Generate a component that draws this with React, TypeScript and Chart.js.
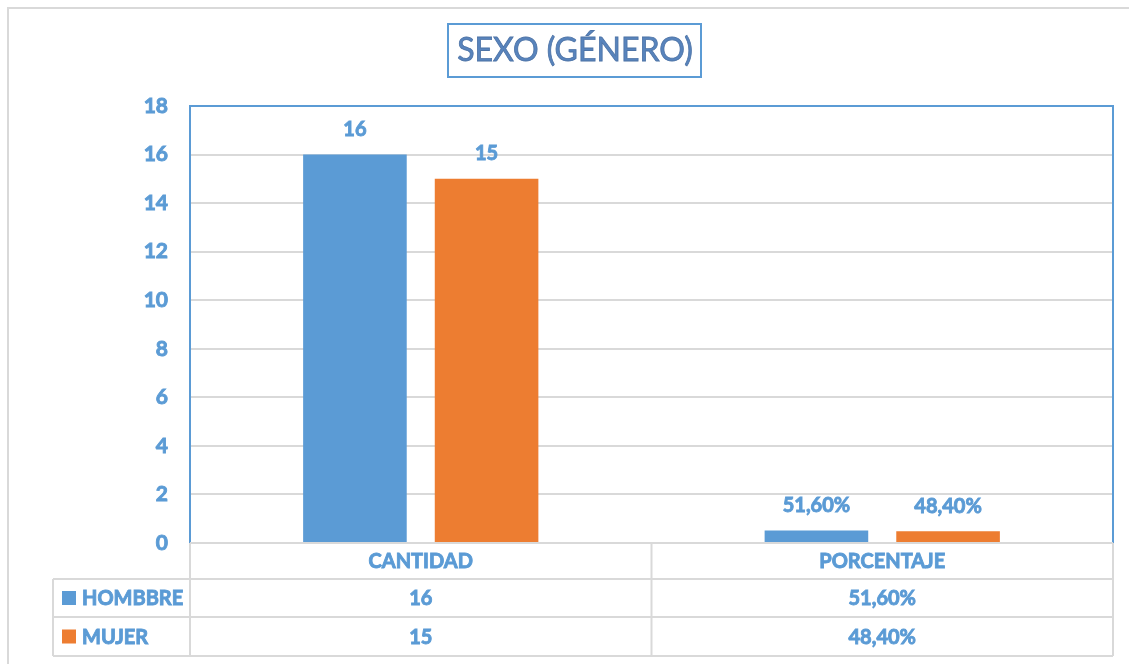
import React, { useEffect, useRef } from 'react';
import { Chart, registerables } from 'chart.js';

Chart.register(...registerables);

// ---- data ----
const TITLE = 'SEXO (GÉNERO)';
const CATEGORIES = ['CANTIDAD', 'PORCENTAJE'];
const SERIES_NAMES = ['HOMBBRE', 'MUJER'];
const HOMBRE = [16, 0.516];
const MUJER = [15, 0.484];
const Y_MIN = 0;
const Y_MAX = 18;
const Y_STEP = 2;

// ---- styles ----
const BLUE = '#5b9bd5';
const ORANGE = '#ed7d31';
const GRID = '#d9d9d9';
const TEXT_BLUE = '#5b9bd5';
const TITLE_COLOR = '#5884bd';
const TITLE_STROKE = '#4d73a6';
const FONT = 'Lato, "Open Sans", "Liberation Sans", sans-serif';
const TXT_W = 700;
const TXT_S = 20;
const STROKE_W = 0.9;

const fmt = (v: number, catIndex: number) =>
  catIndex === 1 ? (v * 100).toFixed(2).replace('.', ',') + '%' : String(v);

function boldText(ctx: CanvasRenderingContext2D, s: string, x: number, y: number) {
  ctx.fillText(s, x, y);
  ctx.strokeText(s, x, y);
}

const decor = {
  id: 'excelDecor',
  beforeDraw(chart: any) {
    const ctx = chart.ctx;
    ctx.save();
    ctx.fillStyle = '#ffffff';
    ctx.fillRect(0, 0, chart.width, chart.height);
    // outer chart border
    ctx.strokeStyle = GRID;
    ctx.lineWidth = 2;
    ctx.beginPath();
    ctx.moveTo(8, chart.height);
    ctx.lineTo(8, 8);
    ctx.lineTo(chart.width, 8);
    ctx.stroke();
    // title box
    ctx.strokeStyle = BLUE;
    ctx.lineWidth = 2;
    ctx.strokeRect(448, 24, 253, 53);
    ctx.fillStyle = TITLE_COLOR;
    ctx.strokeStyle = TITLE_STROKE;
    ctx.lineWidth = 0.8;
    ctx.font = `400 32px ${FONT}`;
    ctx.textAlign = 'center';
    ctx.textBaseline = 'middle';
    boldText(ctx, TITLE, 575, 51);
    ctx.restore();
  },
  afterDatasetsDraw(chart: any) {
    const ctx = chart.ctx;
    ctx.save();
    ctx.fillStyle = TEXT_BLUE;
    ctx.strokeStyle = TEXT_BLUE;
    ctx.lineWidth = STROKE_W;
    ctx.font = `${TXT_W} ${TXT_S}px ${FONT}`;
    ctx.textAlign = 'center';
    ctx.textBaseline = 'middle';
    chart.data.datasets.forEach((ds: any, di: number) => {
      const meta = chart.getDatasetMeta(di);
      meta.data.forEach((el: any, i: number) => {
        boldText(ctx, fmt(ds.data[i], i), el.x, el.y - 25);
      });
    });
    ctx.restore();
  },
  afterDraw(chart: any) {
    const ctx = chart.ctx;
    const { left, right, top, bottom } = chart.chartArea;
    const xs = chart.scales.x;
    ctx.save();
    // plot border (blue)
    ctx.strokeStyle = BLUE;
    ctx.lineWidth = 2;
    ctx.beginPath();
    ctx.moveTo(left, bottom);
    ctx.lineTo(left, top);
    ctx.lineTo(right, top);
    ctx.lineTo(right, bottom);
    ctx.stroke();

    // data table
    const n = CATEGORIES.length;
    const centers = CATEGORIES.map((_, i) => xs.getPixelForValue(i));
    const bounds = [left];
    for (let i = 0; i < n - 1; i++) bounds.push((centers[i] + centers[i + 1]) / 2);
    bounds.push(right);
    const labelLeft = 53;
    const rowY = [bottom, bottom + 36, bottom + 74, bottom + 113];

    ctx.strokeStyle = GRID;
    ctx.lineWidth = 2;
    ctx.beginPath();
    ctx.moveTo(left, rowY[0]);
    ctx.lineTo(right, rowY[0]);
    for (let r = 1; r < rowY.length; r++) {
      ctx.moveTo(labelLeft, rowY[r]);
      ctx.lineTo(right, rowY[r]);
    }
    bounds.forEach((bx) => {
      ctx.moveTo(bx, rowY[0]);
      ctx.lineTo(bx, rowY[3]);
    });
    ctx.moveTo(labelLeft, rowY[1]);
    ctx.lineTo(labelLeft, rowY[3]);
    ctx.stroke();

    ctx.fillStyle = TEXT_BLUE;
    ctx.strokeStyle = TEXT_BLUE;
    ctx.lineWidth = STROKE_W;
    ctx.font = `${TXT_W} ${TXT_S}px ${FONT}`;
    ctx.textAlign = 'center';
    ctx.textBaseline = 'middle';
    CATEGORIES.forEach((c, i) => {
      boldText(ctx, c, centers[i], (rowY[0] + rowY[1]) / 2 + 1);
    });
    chart.data.datasets.forEach((ds: any, di: number) => {
      const yMid = (rowY[di + 1] + rowY[di + 2]) / 2 + 1;
      ds.data.forEach((v: number, i: number) => {
        ctx.textAlign = 'center';
        boldText(ctx, fmt(v, i), centers[i], yMid);
      });
      // legend key
      ctx.fillStyle = ds.backgroundColor;
      ctx.fillRect(62, yMid - 8, 14, 14);
      ctx.fillStyle = TEXT_BLUE;
      ctx.textAlign = 'left';
      boldText(ctx, ds.label, 82, yMid);
    });
    ctx.restore();
  },
};

export default function App() {
  const ref = useRef<HTMLCanvasElement | null>(null);
  useEffect(() => {
    if (!ref.current) return;
    const chart = new Chart(ref.current, {
      type: 'bar',
      data: {
        labels: CATEGORIES,
        datasets: [
          { label: SERIES_NAMES[0], data: HOMBRE, backgroundColor: BLUE, categoryPercentage: 0.5705, barPercentage: 0.787 },
          { label: SERIES_NAMES[1], data: MUJER, backgroundColor: ORANGE, categoryPercentage: 0.5705, barPercentage: 0.787 },
        ],
      },
      options: {
        responsive: false,
        animation: false,
        layout: { padding: { top: 106, right: 16, left: 0, bottom: 0 } },
        plugins: { legend: { display: false }, title: { display: false }, tooltip: { enabled: false } },
        scales: {
          x: {
            grid: { display: false },
            border: { display: false },
            ticks: { display: false },
            afterFit: (s: any) => { s.height = 121; },
          },
          y: {
            min: Y_MIN,
            max: Y_MAX,
            ticks: {
              stepSize: Y_STEP,
              color: TEXT_BLUE,
              textStrokeColor: TEXT_BLUE,
              textStrokeWidth: STROKE_W,
              font: { family: FONT, size: 21, weight: TXT_W },
              padding: 22,
            },
            grid: { color: GRID, lineWidth: 2, drawTicks: false },
            border: { display: false },
            afterFit: (s: any) => { s.width = 190; },
          },
        },
      },
      plugins: [decor],
    } as any);
    return () => chart.destroy();
  }, []);
  return (
    <div style={{ position: 'fixed', left: 0, top: 0, width: 1129, height: 664, background: '#fff' }}>
      <canvas ref={ref} width={1129} height={664} style={{ display: 'block' }} />
    </div>
  );
}
